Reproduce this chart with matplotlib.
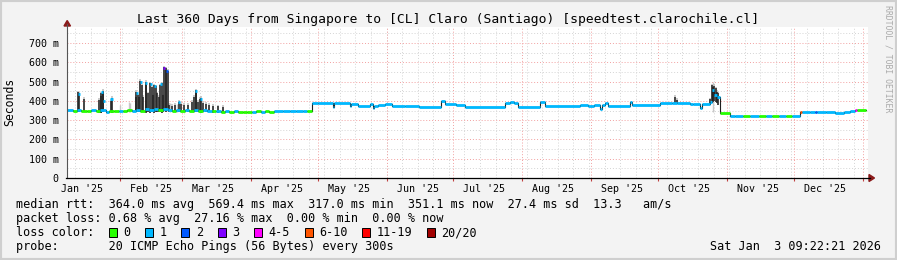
import numpy as np
import pandas as pd
import matplotlib.pyplot as plt
import matplotlib.dates as mdates
from matplotlib.patches import Rectangle, Polygon

# time window of the graph
start = pd.Timestamp("2025-01-08 09:22:21")
end = pd.Timestamp("2026-01-03 09:22:21")
last_day = 359.1

loss_labels = ["0", "1", "2", "3", "4-5", "6-10", "11-19", "20/20"]
loss_colors = ["#26ff00", "#00b8ff", "#0059ff", "#7e00ff", "#ff00ff",
               "#ff5500", "#ff0000", "#a10000"]

# median rtt breakpoints (days since start, ms, loss class)
med_day = [0, 2.5, 4.5, 6.5, 9, 11, 13, 15, 17.5, 19, 21, 23.5, 25, 27, 29, 31,
           33, 35, 37, 39, 41, 43, 45.5, 47, 49, 51, 53, 55, 57, 59, 61, 63,
           65, 67, 69, 71, 73, 75, 77, 79, 81, 83, 85, 87, 89, 91, 93, 97,
           100, 103, 106, 108,
           110.1, 113, 119.6, 120.2, 127, 127.8, 131, 136.2, 137.5, 138, 139.8,
           143, 146.1, 152, 158, 168.1, 170, 175, 178.9, 196.9, 199, 201,
           202.7, 212.6, 214.8, 230.6, 234, 237, 239.6, 240.3, 241.8, 243, 253,
           253.9, 266.5, 271.9, 274.2, 280, 281.3, 284.5, 285.3, 289, 289.9,
           291, 292.2,
           293.5, 298, 300.2, 304, 307, 311, 314, 317, 320, 323, 326, 329.4,
           330.2, 334, 336, 337, 341, 345, 349, 352, 354.2, 355]
med_ms = [352, 350, 353, 349, 348, 351, 347, 352, 342, 349, 346, 350, 347, 351, 349, 354,
          350, 356, 351, 357, 352, 360, 355, 350, 352, 348, 353, 349, 355, 350, 353, 349,
          346, 349, 344, 346, 343, 345, 342, 344, 341, 343, 346, 344, 347, 344, 346, 345,
          346, 345, 346, 345,
          391, 387, 370, 387, 373, 386, 374, 386, 362, 375, 379,
          386, 371, 373, 370, 400, 383, 378, 366, 390, 395, 388,
          370, 395, 373, 380, 375, 380, 357, 378, 390, 373, 395,
          378, 390, 388, 390, 386, 382, 365, 382, 395, 456,
          430, 420,
          337, 321, 323, 323, 322, 323, 323, 322, 323, 322, 323, 344,
          341, 340, 343, 340, 342, 338, 341, 345, 353, 352]
med_loss = [1, 0, 1, 0, 0, 1, 0, 1, 1, 0, 0, 1, 0, 0, 1, 1,
            0, 1, 1, 1, 0, 1, 1, 0, 1, 0, 1, 0, 1, 0, 1, 1,
            0, 1, 0, 1, 0, 1, 0, 0, 0, 1, 0, 1, 0, 0, 1, 1,
            1, 1, 1, 0,
            1, 1, 1, 1, 1, 1, 1, 1, 1, 1, 1,
            1, 1, 1, 1, 1, 1, 1, 1, 1, 1, 1,
            1, 1, 1, 1, 1, 1, 1, 1, 1, 1, 1,
            1, 1, 1, 1, 1, 1, 1, 1, 1, 1,
            1, 1,
            0, 1, 1, 0, 1, 0, 1, 0, 1, 0, 1, 5,
            1, 1, 2, 1, 1, 1, 1, 1, 4, 0]

# smoke (spread of the 20 pings)
smoke_day = [5.1, 5.5, 7.8, 14.6, 15.1, 15.5, 16.0, 16.3, 19.6, 20.0, 30.8, 31.2,
             31.7, 32.4, 33.0, 33.5, 34.2, 35.3, 35.7, 36.4, 37.5, 38.0, 38.7, 39.3,
             39.8, 40.4, 41.3, 42.0, 42.5, 43.1, 43.8, 44.3, 44.7, 45.2, 45.8, 47.2,
             48.5, 50.5, 51.2, 52.6, 54.4, 56.2, 57.1, 57.8, 58.2, 58.9, 59.8, 60.2,
             61.1, 62.5, 63.8, 65.6, 67.9, 70.1,
             273.3, 274.0, 289.0, 289.9, 290.4, 291.0, 291.6, 292.2, 292.8]
smoke_lo = [340, 342, 343, 338, 336, 338, 340, 342, 340, 338, 342, 340,
            341, 344, 340, 342, 340, 339, 342, 340, 338, 341, 340, 338,
            342, 340, 342, 340, 338, 342, 345, 343, 345, 347, 342, 340,
            342, 343, 340, 340, 342, 341, 340, 342, 340, 342, 340, 338,
            340, 342, 340, 338, 337, 336,
            385, 388, 380, 400, 395, 398, 392, 390, 380]
smoke_hi = [444, 440, 410, 405, 425, 440, 451, 445, 400, 416, 420, 447,
            430, 420, 503, 480, 420, 499, 490, 440, 491, 470, 430, 482,
            475, 440, 420, 480, 491, 430, 574, 570, 560, 555, 380, 375,
            380, 396, 385, 380, 380, 395, 420, 456, 440, 395, 410, 415,
            390, 385, 380, 375, 372, 368,
            421, 405, 409, 482, 470, 478, 465, 447, 440]

# faint smoke only
haze_day = [24.0, 27.9, 28.4, 46.5, 49.5, 290.5]
haze_hi = [380, 395, 390, 390, 385, 500]

# median values at the spike tops
dot_day = [5.2, 15.9, 16.8, 20.0, 31.3, 33.1, 35.4, 37.6, 39.4, 42.4, 43.8, 44.8,
           50.5, 57.8, 60.1]
dot_ms = [438, 446, 400, 410, 440, 497, 493, 486, 476, 486, 570, 556,
          392, 450, 410]
dot_loss = [1, 1, 1, 1, 1, 1, 1, 1, 1, 1, 3, 2, 1, 1, 1]

x0 = mdates.date2num(start)

W, H = 897, 260
fig = plt.figure(figsize=(W / 100, H / 100), dpi=100, facecolor="#f3f3f3")
ax = fig.add_axes([67 / W, 1 - 178 / H, (868 - 67) / W, (178 - 27) / H])
ax.set_facecolor("white")
ax.set_xlim(mdates.date2num(start), mdates.date2num(end))
ax.set_ylim(0, 783)
for s in ax.spines.values():
    s.set_visible(False)

# grid
weeks = pd.date_range("2025-01-12", end, freq="7D")
months = pd.date_range("2025-02-01", end, freq="MS")
for d in weeks:
    ax.axvline(mdates.date2num(d), color="#d4d4d4", lw=0.7, ls=(0, (1, 2)), zorder=0)
for y in range(50, 800, 100):
    ax.axhline(y, color="#d4d4d4", lw=0.7, ls=(0, (1, 2)), zorder=0)
for d in months:
    ax.axvline(mdates.date2num(d), color="#f2a0a0", lw=0.7, ls=(0, (1, 2)), zorder=1)
for y in range(100, 800, 100):
    ax.axhline(y, color="#f2a0a0", lw=0.7, ls=(0, (1, 2)), zorder=1)

# smoke
hx = x0 + np.array(haze_day)
ax.vlines(hx, 340, haze_hi, color="#c8c8c8", lw=1.0, zorder=2)
sx = x0 + np.array(smoke_day)
ax.vlines(sx, smoke_lo, np.array(smoke_hi) + 8, color="#bdbdbd", lw=1.1, zorder=2)
ax.vlines(sx, smoke_lo, smoke_hi, color="#222222", lw=1.1, zorder=3)

# median line
mx = x0 + np.array(med_day)
mx_end = np.append(mx[1:], x0 + last_day)
ax.step(np.append(mx, x0 + last_day), np.append(med_ms, med_ms[-1]),
        where="post", color="#202020", lw=0.8, zorder=4)
ax.hlines(med_ms, mx, mx_end, colors=[loss_colors[c] for c in med_loss],
          lw=2.0, zorder=5)
dx = x0 + np.array(dot_day)
ax.hlines(dot_ms, dx - 0.45, dx + 0.45, colors=[loss_colors[c] for c in dot_loss],
          lw=2.0, zorder=5)

# axes ticks
ax.set_yticks(range(0, 800, 100))
ax.set_yticklabels(["0"] + ["%d m" % v for v in range(100, 800, 100)],
                   family="DejaVu Sans Mono", fontsize=7.2)
label_days = pd.date_range("2025-01-15", "2025-12-15", freq="MS") + pd.Timedelta(days=14)
label_days = pd.date_range("2025-01-01", "2025-12-01", freq="MS") + pd.Timedelta(days=14)
ax.set_xticks([mdates.date2num(d) for d in label_days])
ax.set_xticklabels([d.strftime("%b '%y") for d in label_days],
                   family="DejaVu Sans Mono", fontsize=7.2)
ax.tick_params(axis="both", length=0, colors="#000000")
ax.tick_params(axis="x", pad=4.5)
ax.tick_params(axis="y", pad=6)
ax.vlines([mdates.date2num(d) for d in months], -0.02, 0, color="#c04040", lw=0.8,
          transform=ax.get_xaxis_transform(), clip_on=False)

# axis lines with arrows
fig.add_artist(plt.Line2D([67 / W, 67 / W], [1 - 178 / H, 1 - 24 / H], color="#555555", lw=0.8))
fig.add_artist(plt.Line2D([66 / W, 870 / W], [1 - 178 / H, 1 - 178 / H], color="#000000", lw=0.9))
fig.add_artist(Polygon([[64 / W, 1 - 26 / H], [70.5 / W, 1 - 26 / H], [67.2 / W, 1 - 20.5 / H]],
                       closed=True, color="#8b1a1a"))
fig.add_artist(Polygon([[869 / W, 1 - 174.5 / H], [869 / W, 1 - 181.5 / H], [874.5 / W, 1 - 178 / H]],
                       closed=True, color="#8b1a1a"))

mono = "DejaVu Sans Mono"
fig.text(448 / W, 1 - 19 / H,
         "Last 360 Days from Singapore to [CL] Claro (Santiago) [speedtest.clarochile.cl]",
         ha="center", va="center", family=mono, fontsize=9.4)
fig.text(10 / W, 1 - 102 / H, "Seconds", rotation=90, ha="center", va="center",
         family=mono, fontsize=8.3)
fig.text(888 / W, 1 - 5 / H, "RRDTOOL / TOBI OETIKER", rotation=270, ha="center", va="top",
         family=mono, fontsize=5.9, color="#aaaaaa")

fig.text(16 / W, 1 - 204.5 / H,
         "median rtt:  364.0 ms avg  569.4 ms max  317.0 ms min  351.1 ms now  27.4 ms sd  13.3   am/s",
         ha="left", va="center", family=mono, fontsize=8.5)
fig.text(16 / W, 1 - 218.5 / H,
         "packet loss: 0.68 % avg  27.16 % max  0.00 % min  0.00 % now",
         ha="left", va="center", family=mono, fontsize=8.5)
fig.text(16 / W, 1 - 232.5 / H, "loss color:", ha="left", va="center", family=mono, fontsize=8.5)
bx = 108.7
for lab, col in zip(loss_labels, loss_colors):
    fig.add_artist(Rectangle((bx / W, 1 - 237 / H), 8 / W, 9 / H, facecolor=col,
                             edgecolor="#000000", lw=0.7))
    fig.text((bx + 14.6) / W, 1 - 232.5 / H, lab, ha="left", va="center", family=mono, fontsize=8.5)
    bx += (len(lab) + 4.1) * 7.12
fig.text(16 / W, 1 - 246.7 / H,
         "probe:       20 ICMP Echo Pings (56 Bytes) every 300s",
         ha="left", va="center", family=mono, fontsize=8.5)
fig.text(881 / W, 1 - 246.7 / H, "Sat Jan  3 09:22:21 2026",
         ha="right", va="center", family=mono, fontsize=8.5)

# frame
fig.add_artist(Rectangle((0, 0), 1, 1, transform=fig.transFigure, fill=False,
                         edgecolor="#cfcfcf", lw=3))

fig.savefig("out.png", dpi=100, facecolor=fig.get_facecolor())
